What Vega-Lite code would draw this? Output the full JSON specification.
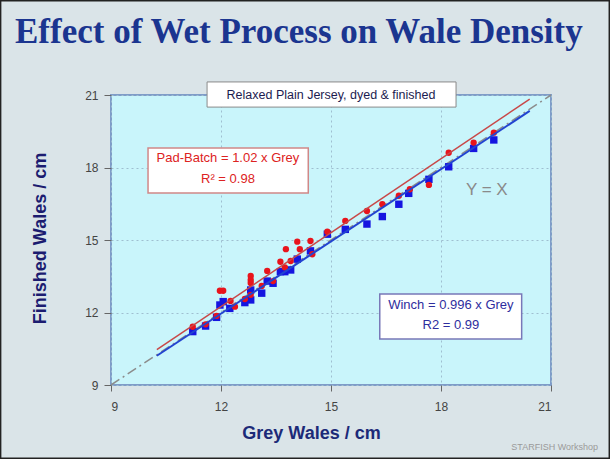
{
  "$schema": "https://vega.github.io/schema/vega-lite/v6.json",
  "width": 440,
  "height": 290,
  "autosize": {"type": "none"},
  "padding": {"left": 111, "top": 95, "right": 59, "bottom": 74},
  "background": "#dae4e8",
  "title": {
    "text": "Effect of Wet Process on Wale Density",
    "anchor": "start",
    "frame": "group",
    "dx": -96,
    "font": "Liberation Serif",
    "fontSize": 35,
    "fontWeight": "bold",
    "color": "#1b3590",
    "baseline": "alphabetic",
    "offset": -78
  },
  "config": {
    "view": {"fill": "#c9f5fb", "stroke": "#7f9cc8", "strokeWidth": 2}
  },
  "datasets": {
    "points": [
      {"series": "Pad-Batch", "grey": 11.23, "finished": 11.41},
      {"series": "Pad-Batch", "grey": 11.58, "finished": 11.51},
      {"series": "Pad-Batch", "grey": 11.88, "finished": 11.86},
      {"series": "Pad-Batch", "grey": 11.97, "finished": 12.9},
      {"series": "Pad-Batch", "grey": 12.06, "finished": 12.9},
      {"series": "Pad-Batch", "grey": 12.26, "finished": 12.48},
      {"series": "Pad-Batch", "grey": 12.38, "finished": 12.24},
      {"series": "Pad-Batch", "grey": 12.65, "finished": 12.56},
      {"series": "Pad-Batch", "grey": 12.81, "finished": 13.51},
      {"series": "Pad-Batch", "grey": 12.81, "finished": 13.35},
      {"series": "Pad-Batch", "grey": 12.81, "finished": 13.22},
      {"series": "Pad-Batch", "grey": 12.81, "finished": 12.73},
      {"series": "Pad-Batch", "grey": 13.11, "finished": 13.1},
      {"series": "Pad-Batch", "grey": 13.26, "finished": 13.72},
      {"series": "Pad-Batch", "grey": 13.42, "finished": 13.3},
      {"series": "Pad-Batch", "grey": 13.62, "finished": 14.1},
      {"series": "Pad-Batch", "grey": 13.74, "finished": 13.87},
      {"series": "Pad-Batch", "grey": 13.77, "finished": 14.62},
      {"series": "Pad-Batch", "grey": 13.9, "finished": 14.13},
      {"series": "Pad-Batch", "grey": 14.08, "finished": 14.93},
      {"series": "Pad-Batch", "grey": 14.15, "finished": 14.62},
      {"series": "Pad-Batch", "grey": 14.44, "finished": 14.96},
      {"series": "Pad-Batch", "grey": 14.49, "finished": 14.41},
      {"series": "Pad-Batch", "grey": 14.9, "finished": 15.34},
      {"series": "Pad-Batch", "grey": 15.39, "finished": 15.79},
      {"series": "Pad-Batch", "grey": 15.98, "finished": 16.2},
      {"series": "Pad-Batch", "grey": 16.4, "finished": 16.48},
      {"series": "Pad-Batch", "grey": 16.85, "finished": 16.83},
      {"series": "Pad-Batch", "grey": 17.15, "finished": 17.1},
      {"series": "Pad-Batch", "grey": 17.67, "finished": 17.28},
      {"series": "Pad-Batch", "grey": 18.21, "finished": 18.61},
      {"series": "Pad-Batch", "grey": 18.89, "finished": 19.03},
      {"series": "Pad-Batch", "grey": 19.44, "finished": 19.44},
      {"series": "Winch", "grey": 11.23, "finished": 11.21},
      {"series": "Winch", "grey": 11.58, "finished": 11.44},
      {"series": "Winch", "grey": 11.88, "finished": 11.8},
      {"series": "Winch", "grey": 11.97, "finished": 12.31},
      {"series": "Winch", "grey": 12.06, "finished": 12.45},
      {"series": "Winch", "grey": 12.24, "finished": 12.17},
      {"series": "Winch", "grey": 12.65, "finished": 12.41},
      {"series": "Winch", "grey": 12.81, "finished": 12.52},
      {"series": "Winch", "grey": 12.81, "finished": 12.93},
      {"series": "Winch", "grey": 13.11, "finished": 12.8},
      {"series": "Winch", "grey": 13.26, "finished": 13.3},
      {"series": "Winch", "grey": 13.42, "finished": 13.21},
      {"series": "Winch", "grey": 13.62, "finished": 13.69},
      {"series": "Winch", "grey": 13.74, "finished": 13.69},
      {"series": "Winch", "grey": 13.9, "finished": 13.76},
      {"series": "Winch", "grey": 14.08, "finished": 14.21},
      {"series": "Winch", "grey": 14.44, "finished": 14.55},
      {"series": "Winch", "grey": 14.9, "finished": 15.24},
      {"series": "Winch", "grey": 15.39, "finished": 15.44},
      {"series": "Winch", "grey": 15.98, "finished": 15.66},
      {"series": "Winch", "grey": 16.4, "finished": 15.97},
      {"series": "Winch", "grey": 16.85, "finished": 16.48},
      {"series": "Winch", "grey": 17.12, "finished": 16.93},
      {"series": "Winch", "grey": 17.67, "finished": 17.51},
      {"series": "Winch", "grey": 18.21, "finished": 18.03},
      {"series": "Winch", "grey": 18.89, "finished": 18.79},
      {"series": "Winch", "grey": 19.44, "finished": 19.14}
    ],
    "fits": [
      {"fit": "Y = X", "grey": 9, "finished": 9},
      {"fit": "Y = X", "grey": 21, "finished": 21},
      {"fit": "Pad-Batch", "grey": 10.25, "finished": 10.46},
      {"fit": "Pad-Batch", "grey": 20.42, "finished": 20.83},
      {"fit": "Winch", "grey": 10.25, "finished": 10.21},
      {"fit": "Winch", "grey": 20.42, "finished": 20.34}
    ]
  },
  "layer": [
    {
      "data": {"name": "fits"},
      "transform": [{"filter": "datum.fit === 'Y = X'"}],
      "mark": {"type": "line", "color": "#8c8c8c", "strokeWidth": 1.5, "strokeDash": [10, 4, 2, 4]},
      "encoding": {
        "x": {
          "field": "grey", "type": "quantitative",
          "scale": {"domain": [9, 21], "nice": false, "zero": false},
          "axis": {
            "values": [9, 12, 15, 18, 21],
            "title": "Grey Wales / cm",
            "grid": true, "gridColor": "#9fbfd0", "gridDash": [2, 3], "gridWidth": 1,
            "domain": false,
            "tickColor": "#666", "tickSize": 6,
            "labelFont": "Liberation Sans", "labelFontSize": 12, "labelColor": "#444", "labelPadding": 10,
            "titleFont": "Liberation Sans", "titleFontSize": 18, "titleFontWeight": "bold", "titleColor": "#1c2a78",
            "titleX": 200, "titleY": 48, "titleBaseline": "middle", "titleAlign": "center"
          }
        },
        "y": {
          "field": "finished", "type": "quantitative",
          "scale": {"domain": [9, 21], "nice": false, "zero": false},
          "axis": {
            "values": [9, 12, 15, 18, 21],
            "title": "Finished Wales / cm",
            "grid": true, "gridColor": "#9fbfd0", "gridDash": [2, 3], "gridWidth": 1,
            "domain": false,
            "tickColor": "#666", "tickSize": 7,
            "labelFont": "Liberation Sans", "labelFontSize": 12, "labelColor": "#444", "labelPadding": 6,
            "titleFont": "Liberation Sans", "titleFontSize": 18, "titleFontWeight": "bold", "titleColor": "#1c1c70",
            "titleX": -71, "titleY": 143, "titleAngle": -90, "titleBaseline": "middle", "titleAlign": "center"
          }
        }
      }
    },
    {
      "data": {"name": "points"},
      "transform": [{"filter": "datum.series === 'Winch'"}],
      "mark": {"type": "square", "size": 55, "color": "#1515e0", "opacity": 1},
      "encoding": {
        "x": {"field": "grey", "type": "quantitative"},
        "y": {"field": "finished", "type": "quantitative"}
      }
    },
    {
      "data": {"name": "points"},
      "transform": [{"filter": "datum.series === 'Pad-Batch'"}],
      "mark": {"type": "circle", "size": 40, "color": "#e8141c", "opacity": 1},
      "encoding": {
        "x": {"field": "grey", "type": "quantitative"},
        "y": {"field": "finished", "type": "quantitative"}
      }
    },
    {
      "data": {"name": "fits"},
      "transform": [{"filter": "datum.fit === 'Winch'"}],
      "mark": {"type": "line", "color": "#2244d0", "strokeWidth": 2},
      "encoding": {
        "x": {"field": "grey", "type": "quantitative"},
        "y": {"field": "finished", "type": "quantitative"}
      }
    },
    {
      "data": {"name": "fits"},
      "transform": [{"filter": "datum.fit === 'Pad-Batch'"}],
      "mark": {"type": "line", "color": "#c84848", "strokeWidth": 1.5},
      "encoding": {
        "x": {"field": "grey", "type": "quantitative"},
        "y": {"field": "finished", "type": "quantitative"}
      }
    },
    {
      "data": {"values": [{}]},
      "mark": {"type": "rect", "fill": "white", "stroke": "#8a8a8a", "strokeWidth": 1},
      "encoding": {
        "x": {"datum": 11.62}, "x2": {"datum": 18.41},
        "y": {"datum": 21.54}, "y2": {"datum": 20.5}
      }
    },
    {
      "data": {"values": [{"label": "Relaxed Plain Jersey, dyed & finished"}]},
      "mark": {"type": "text", "font": "Liberation Sans", "fontSize": 12.5, "color": "#1c1c50", "baseline": "middle", "align": "center"},
      "encoding": {
        "x": {"datum": 15.0}, "y": {"datum": 21.02},
        "text": {"field": "label"}
      }
    },
    {
      "data": {"values": [{}]},
      "mark": {"type": "rect", "fill": "white", "stroke": "#d08888", "strokeWidth": 1.5},
      "encoding": {
        "x": {"datum": 10.01}, "x2": {"datum": 14.38},
        "y": {"datum": 18.81}, "y2": {"datum": 16.95}
      }
    },
    {
      "data": {"values": [{"label": "Pad-Batch = 1.02 x Grey"}]},
      "mark": {"type": "text", "font": "Liberation Sans", "fontSize": 13, "color": "#dd2222", "baseline": "middle", "align": "center"},
      "encoding": {"x": {"datum": 12.19}, "y": {"datum": 18.39}, "text": {"field": "label"}}
    },
    {
      "data": {"values": [{"label": "R² = 0.98"}]},
      "mark": {"type": "text", "font": "Liberation Sans", "fontSize": 13, "color": "#dd2222", "baseline": "middle", "align": "center"},
      "encoding": {"x": {"datum": 12.19}, "y": {"datum": 17.52}, "text": {"field": "label"}}
    },
    {
      "data": {"values": [{}]},
      "mark": {"type": "rect", "fill": "white", "stroke": "#7878b8", "strokeWidth": 1.5},
      "encoding": {
        "x": {"datum": 16.33}, "x2": {"datum": 20.2},
        "y": {"datum": 12.77}, "y2": {"datum": 10.9}
      }
    },
    {
      "data": {"values": [{"label": "Winch = 0.996 x Grey"}]},
      "mark": {"type": "text", "font": "Liberation Sans", "fontSize": 13, "color": "#2e2e9e", "baseline": "middle", "align": "center"},
      "encoding": {"x": {"datum": 18.27}, "y": {"datum": 12.31}, "text": {"field": "label"}}
    },
    {
      "data": {"values": [{"label": "R2 = 0.99"}]},
      "mark": {"type": "text", "font": "Liberation Sans", "fontSize": 13, "color": "#2e2e9e", "baseline": "middle", "align": "center"},
      "encoding": {"x": {"datum": 18.27}, "y": {"datum": 11.48}, "text": {"field": "label"}}
    },
    {
      "data": {"values": [{"label": "Y = X"}]},
      "mark": {"type": "text", "font": "Liberation Sans", "fontSize": 17, "color": "#8a8a8a", "baseline": "middle", "align": "center"},
      "encoding": {"x": {"datum": 19.25}, "y": {"datum": 17.07}, "text": {"field": "label"}}
    },
    {
      "data": {"values": [{"label": "STARFISH Workshop"}]},
      "mark": {"type": "text", "font": "Liberation Sans", "fontSize": 9, "color": "#9a9a9a", "baseline": "middle", "align": "center"},
      "encoding": {"x": {"datum": 21.1}, "y": {"datum": 6.44}, "text": {"field": "label"}}
    },
    {
      "data": {"values": [{}]},
      "mark": {"type": "rect", "fill": null, "stroke": "#222222", "strokeWidth": 1.5},
      "encoding": {
        "x": {"datum": 5.99}, "x2": {"datum": 22.59},
        "y": {"datum": 24.9}, "y2": {"datum": 5.97}
      }
    }
  ]
}
